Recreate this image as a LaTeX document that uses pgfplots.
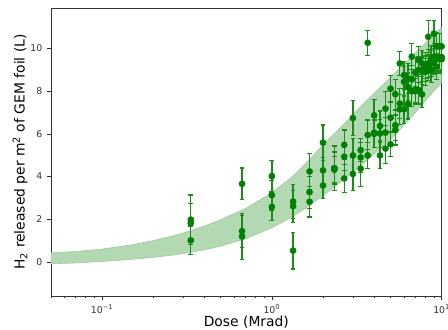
\documentclass[border=0pt]{standalone}
\usepackage{pgfplots}
\pgfplotsset{compat=1.18}
\usepackage{pgfplotstable}
\usepgfplotslibrary{fillbetween}
\usepackage{fontspec}
\setmainfont{DejaVu Sans}
\definecolor{mgreen}{HTML}{008000}
\definecolor{bandgreen}{HTML}{B3D9B3}

\pgfplotstableread{
x y e
0.333 1.98 1.15
0.333 1.82 0.90
0.333 1.01 0.67
0.667 3.66 0.74
0.667 1.44 0.75
0.667 1.19 1.08
1.000 4.02 0.72
1.000 3.13 0.70
1.000 2.58 0.65
1.333 2.83 0.80
1.333 2.61 0.75
1.333 0.53 0.86
1.667 4.24 0.83
1.667 3.27 0.75
1.667 2.82 0.72
2.000 5.59 0.83
2.000 4.29 0.62
2.000 3.58 0.61
2.333 4.38 1.05
2.333 4.32 0.62
2.333 4.40 0.75
2.667 5.48 0.70
2.667 4.93 0.65
2.667 3.91 0.64
3.000 6.74 0.83
3.000 4.99 0.80
3.000 4.12 0.77
3.333 5.24 0.55
3.333 4.90 0.70
3.333 4.37 0.85
3.667 10.27 0.59
3.667 5.95 0.70
3.667 4.99 0.62
4.000 6.87 0.75
4.000 6.06 0.70
4.000 6.00 0.65
4.333 6.37 0.70
4.333 6.02 0.65
4.333 4.99 0.62
4.667 7.18 0.80
4.667 6.06 0.70
4.667 5.31 0.70
5.000 8.12 0.63
5.000 6.76 0.70
5.000 5.51 0.58
5.333 7.86 0.70
5.333 6.40 0.70
5.333 6.18 0.70
5.667 9.30 0.56
5.667 7.42 0.70
5.667 7.15 0.70
6.000 8.75 0.65
6.000 8.44 0.70
6.000 7.15 0.65
6.333 8.60 0.70
6.333 8.20 0.65
6.333 7.40 0.70
6.667 9.62 0.60
6.667 8.55 0.65
6.667 8.00 0.70
7.000 8.88 0.70
7.000 8.10 0.65
7.000 8.00 0.60
7.333 9.45 0.65
7.333 9.00 0.60
7.333 8.05 0.65
7.667 9.30 0.60
7.667 8.95 0.65
7.667 7.85 0.60
8.000 9.20 0.60
8.000 8.90 0.65
8.000 9.05 0.60
8.333 10.55 0.75
8.333 9.30 0.65
8.333 9.10 0.60
8.667 9.50 0.65
8.667 9.30 0.60
8.667 9.00 0.60
9.000 10.70 0.60
9.000 9.60 0.65
9.000 9.40 0.60
9.333 10.10 0.65
9.333 9.15 0.60
9.333 9.50 0.65
9.667 10.10 0.60
9.667 9.60 0.65
9.667 9.50 0.60
10.000 10.10 0.60
10.000 9.50 0.65
10.000 9.60 0.60
}\pointdata

\pgfplotstableread{
x lo hi
0.05 -0.09 0.42
0.07 -0.05 0.49
0.1 0.02 0.60
0.15 0.12 0.80
0.2 0.21 1.00
0.25 0.30 1.18
0.3 0.39 1.35
0.4 0.56 1.68
0.5 0.74 1.98
0.7 1.08 2.50
1.0 1.60 3.25
1.3 2.08 3.95
1.65 2.62 4.75
2.0 3.10 5.50
2.5 3.70 6.25
3.0 4.20 6.90
3.5 4.65 7.45
4.0 5.05 7.90
5.0 5.75 8.65
6.0 6.40 9.25
7.0 7.00 9.80
8.0 7.55 10.25
9.0 8.00 10.65
10.0 8.40 11.00
}\banddata

\begin{document}
\begin{tikzpicture}
\begin{axis}[
  scale only axis,
  width=293pt, height=216pt,
  xmode=log,
  xmin=0.05, xmax=10,
  ymin=-1.6, ymax=11.9,
  xtick={0.1,1,10},
  xticklabels={10\textsuperscript{−1},10\textsuperscript{0},10\textsuperscript{1}},
  minor xtick={0.05,0.06,0.07,0.08,0.09,0.2,0.3,0.4,0.5,0.6,0.7,0.8,0.9,2,3,4,5,6,7,8,9},
  ytick={0,2,4,6,8,10},
  tick pos=left,
  tick align=outside,
  major tick length=3pt,
  minor tick length=1.6pt,
  tick style={black!80, line width=0.5pt},
  axis line style={black!80, line width=0.6pt},
  /pgf/number format/assume math mode=true,
  tick label style={font=\fontsize{7}{8}\selectfont, black!80},
  xlabel={Dose (Mrad)},
  ylabel={H\textsubscript{2} released per m\textsuperscript{2} of GEM foil (L)},
  label style={font=\fontsize{10.4}{12}\selectfont},
  xlabel style={at={(axis description cs:0.5,-0.09)}, anchor=center},
  ylabel style={at={(axis description cs:-0.079,0.5)}, anchor=center},
]
\addplot[name path=hi, draw=none, forget plot] table[x=x, y=hi] {\banddata};
\addplot[name path=lo, draw=none, forget plot] table[x=x, y=lo] {\banddata};
\addplot[bandgreen, draw=bandgreen!90!black] fill between[of=hi and lo];
\addplot[only marks, mark=*, mark size=2.3pt, color=mgreen,
  mark options={fill=mgreen, draw=mgreen},
  error bars/.cd, y dir=both, y explicit,
  error bar style={line width=1pt, mgreen!90!white},
  error mark options={rotate=90, mark size=1.8pt, line width=0.9pt, mgreen!90!white}]
  table[x=x, y=y, y error=e] {\pointdata};
\end{axis}
\pgfresetboundingbox
\useasboundingbox (-38.25pt,-24.75pt) rectangle (297.75pt,222pt);
\end{tikzpicture}
\end{document}
